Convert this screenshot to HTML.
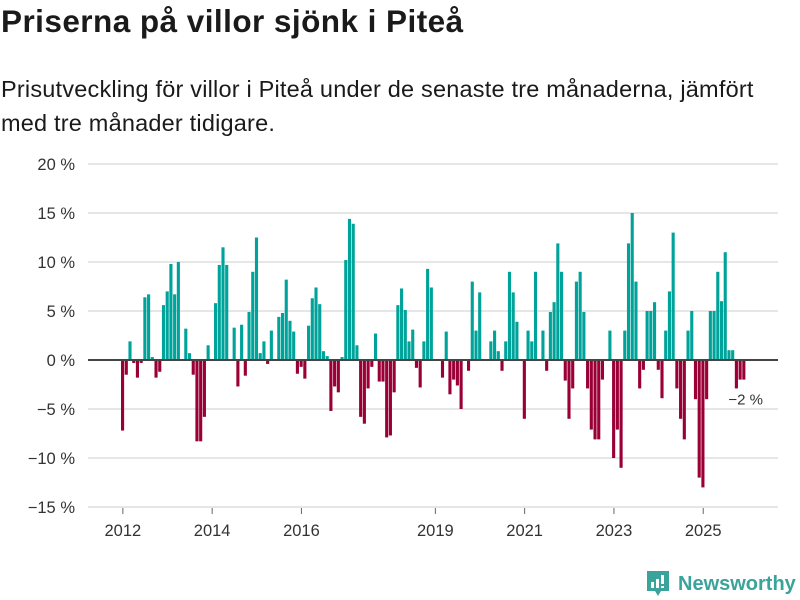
<!DOCTYPE html>
<html><head><meta charset="utf-8">
<style>
body{margin:0;width:800px;height:600px;background:#fff;overflow:hidden;font-family:"Liberation Sans",sans-serif;color:#1a1a1a;}
#title{position:absolute;left:1px;top:3px;font-size:31.5px;font-weight:bold;margin:0;letter-spacing:0.45px}
#sub{position:absolute;left:1px;top:72px;font-size:23.5px;line-height:34px;width:780px;letter-spacing:0.2px}
svg{position:absolute;left:0;top:0}
#logo{position:absolute;left:645px;top:569px;display:flex;align-items:center}
</style></head><body>
<h1 id="title">Priserna på villor sjönk i Piteå</h1>
<div id="sub">Prisutveckling för villor i Piteå under de senaste tre månaderna, jämfört med tre månader tidigare.</div>
<svg id="chart" width="800" height="600"></svg>
<div id="logo">
<svg width="26" height="30" style="position:static"><path d="M2 2h22v20h-8l-3 5-3-5H2z" fill="#3aa39a"/><rect x="6" y="13" width="3" height="6" fill="#fff"/><rect x="11" y="10" width="3" height="9" fill="#fff"/><rect x="16" y="6" width="3" height="9" fill="#fff"/><rect x="16" y="17" width="3" height="2" fill="#fff"/></svg>
<span style="color:#3aa39a;font-size:20px;font-weight:bold;margin-left:7px">Newsworthy</span>
</div>
<script>
const yTicks=[20,15,10,5,0,-5,-10,-15];
const xTickYears=[2012,2014,2016,2019,2021,2023,2025];
const startYear=2012;
const values=[-7.2,-1.5,1.9,-0.3,-1.8,-0.3,6.4,6.7,0.3,-1.8,-1.2,5.6,7.0,9.8,6.7,10.0,0,3.2,0.7,-1.5,-8.3,-8.3,-5.8,1.5,0,5.8,9.7,11.5,9.7,0,3.3,-2.7,3.6,-1.6,4.9,9.0,12.5,0.7,1.9,-0.4,
3.0,0,4.4,4.8,8.2,4.0,2.9,-1.4,-0.7,-1.9,3.5,6.3,7.4,5.7,0.9,0.4,-5.2,-2.7,-3.3,0.3,10.2,14.4,13.9,1.5,-5.8,-6.5,-2.9,-0.7,2.7,-2.2,-2.2,-7.9,-7.7,-3.3,5.6,7.3,5.1,1.9,3.1,-0.8,-2.8,1.9,
9.3,7.4,0,0,-1.8,2.9,-3.5,-2.0,-2.6,-5.0,0,-1.1,8.0,3.0,6.9,0,0,1.9,3.0,0.9,-1.1,1.9,9.0,6.9,3.9,0,-6.0,3.0,1.9,9.0,0,3.0,-1.1,4.9,5.9,11.9,9.0,-2.1,-6.0,-2.9,8.0,9.0,
4.9,-2.9,-7.1,-8.1,-8.1,-2.0,0,3.0,-10.0,-7.1,-11.0,3.0,11.9,15.0,8.0,-2.9,-1.0,5.0,5.0,5.9,-1.0,-3.9,3.0,7.0,13.0,-2.9,-6.0,-8.1,3.0,5.0,-4.0,-12.0,-13.0,-4.0,5.0,5.0,9.0,6.0,11.0,1.0,1.0,-2.9,-2.0,-2.0];
const lastLabel="\u22122 %";
const NS="http://www.w3.org/2000/svg";
const svg=document.getElementById('chart');
const y0=360,pxPer=9.8;
function y(v){return y0-v*pxPer;}
const x0=121,xEnd=746;
const step=(xEnd-x0)/values.length;
function x(i){return x0+i*step;}
function mk(t,a){const e=document.createElementNS(NS,t);for(const k in a)e.setAttribute(k,a[k]);svg.appendChild(e);return e;}
yTicks.forEach(t=>{
  if(t!==0){const g=mk('line',{x1:88,x2:778,y1:y(t),y2:y(t),stroke:'#dddddd','stroke-width':1.5});
  
  }
  const l=mk('text',{x:75,y:y(t)+6,'text-anchor':'end','font-size':16.5,fill:'#333'});
  
  
  l.textContent=(t<0?'\u2212'+(-t):t)+' %';
});
values.forEach((v,i)=>{
  if(v===0)return;
  const r=mk('rect',{x:x(i),width:step-0.6,y:Math.min(y(v),y0),height:Math.abs(y(v)-y0),fill:v>0?'#00a39a':'#9a0036'});
  
  
});
const z=mk('line',{x1:88,x2:778,y1:y0,y2:y0,stroke:'#444','stroke-width':2});


xTickYears.forEach(yr=>{
  const px=x((yr-startYear)*12)+step/2;
  const tl=mk('line',{x1:px,x2:px,y1:508,y2:514,stroke:'#666','stroke-width':1});
  
  
  const t=mk('text',{x:px,y:536,'text-anchor':'middle','font-size':16.5,fill:'#333'});
  
  
  t.textContent=yr;
});
const lv=values[values.length-1];
const ll=mk('text',{x:x(values.length-1)+step+17,y:y(lv)+25,'text-anchor':'end','font-size':15,fill:'#333'});


ll.textContent=lastLabel;
</script>
</body></html>
